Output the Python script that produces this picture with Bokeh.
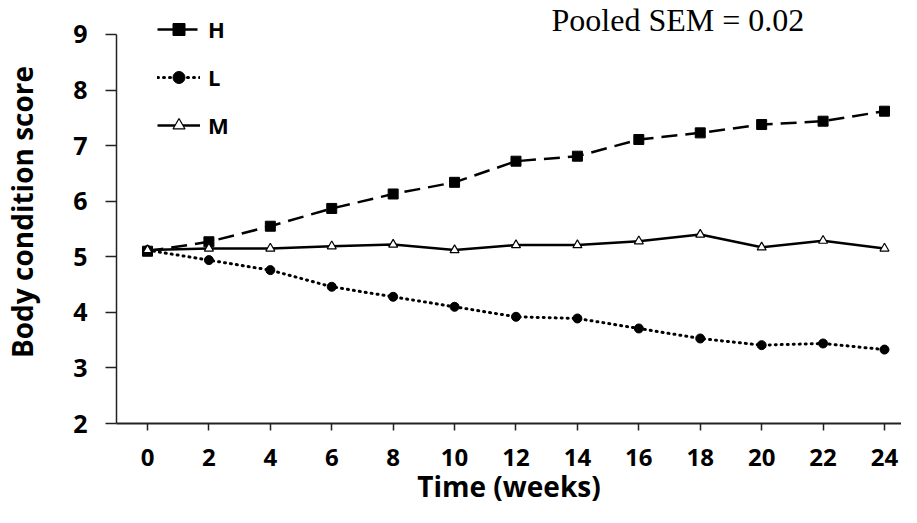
from bokeh.plotting import figure
from bokeh.models import Legend, LegendItem, Label, FixedTicker
from bokeh.embed import file_html
from bokeh.resources import INLINE

weeks = [0, 2, 4, 6, 8, 10, 12, 14, 16, 18, 20, 22, 24]
H = [5.10, 5.27, 5.55, 5.87, 6.13, 6.34, 6.72, 6.81, 7.11, 7.23, 7.38, 7.44, 7.62]
L = [5.12, 4.94, 4.76, 4.46, 4.28, 4.10, 3.92, 3.89, 3.71, 3.53, 3.41, 3.44, 3.33]
M = [5.12, 5.15, 5.15, 5.19, 5.22, 5.12, 5.21, 5.21, 5.28, 5.40, 5.17, 5.29, 5.15]
y_ticks = [2, 3, 4, 5, 6, 7, 8, 9]
x_ticks = weeks

FONT = "Open Sans"

p = figure(width=901, height=507, output_backend="svg", toolbar_location=None,
           x_range=(-1.0095, 24.554), y_range=(2, 9.6118),
           min_border_left=116, min_border_right=0, min_border_top=0, min_border_bottom=84)
p.outline_line_color = None
p.grid.visible = False

rH = p.line(weeks, H, line_color="black", line_width=2.5, line_dash="16 8")
sH = p.scatter(weeks, H, marker="square", size=10, fill_color="black", line_color="black")
rL = p.line(weeks, L, line_color="black", line_width=3, line_dash="1 5", line_cap="round")
sL = p.scatter(weeks, L, marker="circle", size=9, fill_color="black", line_color="black")
rM = p.line(weeks, M, line_color="black", line_width=2.5)
sM = p.scatter(weeks, M, marker="triangle", size=9, fill_color="white", line_color="black", line_width=1.2)

legend = Legend(items=[LegendItem(label="H", renderers=[rH, sH]),
                       LegendItem(label="L", renderers=[rL, sL]),
                       LegendItem(label="M", renderers=[rM, sM])],
                location=(41, 283), orientation="vertical",
                glyph_width=43, glyph_height=30, label_height=30, spacing=18,
                label_standoff=8, padding=0, margin=0,
                border_line_color=None, background_fill_alpha=0,
                label_text_font=FONT, label_text_font_style="bold",
                label_text_font_size="22px", label_text_color="black")
p.add_layout(legend, "center")

for ax in (p.xaxis, p.yaxis):
    ax.axis_line_color = "#222222"
    ax.major_tick_line_color = "#222222"
    ax.minor_tick_line_color = None
    ax.major_tick_in = 0
    ax.major_label_text_font = FONT
    ax.major_label_text_font_style = "bold"
    ax.major_label_text_color = "black"
    ax.axis_label_text_font = FONT
    ax.axis_label_text_font_style = "bold"
    ax.axis_label_text_color = "black"

p.xaxis.ticker = FixedTicker(ticks=x_ticks)
p.yaxis.ticker = FixedTicker(ticks=y_ticks)
p.yaxis.bounds = (2, 9)
p.xaxis.major_label_text_font_size = "24px"
p.yaxis.major_label_text_font_size = "25px"
p.xaxis.axis_label_text_font_size = "28px"
p.yaxis.axis_label_text_font_size = "28px"
p.xaxis.axis_line_width = 2
p.yaxis.axis_line_width = 1.5
p.xaxis.major_tick_line_width = 1.5
p.yaxis.major_tick_line_width = 1.5
p.xaxis.major_tick_out = 7
p.yaxis.major_tick_out = 11
p.xaxis.major_label_standoff = 18
p.yaxis.major_label_standoff = 18
p.xaxis.axis_label = "Time (weeks)"
p.yaxis.axis_label = "Body condition score"
p.xaxis.axis_label_standoff = -2
p.yaxis.axis_label_standoff = 29

sem = Label(x=13.156, y=9.252, text="Pooled SEM = 0.02", text_font="Liberation Serif",
            text_font_size="32px", text_baseline="alphabetic", text_align="left",
            text_color="black")
p.add_layout(sem)

open("out.html", "w").write(file_html(p, INLINE))
